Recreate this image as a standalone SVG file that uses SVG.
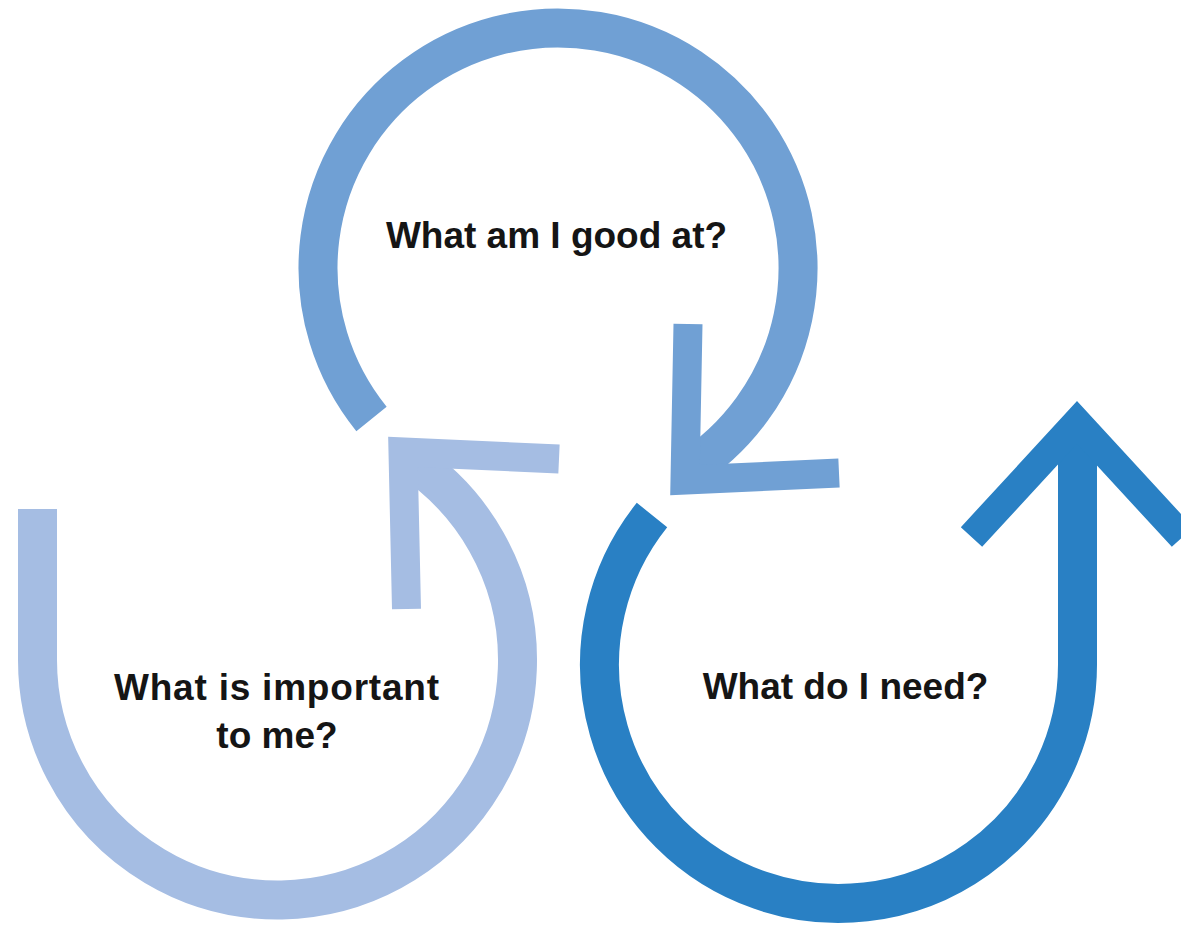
<svg xmlns="http://www.w3.org/2000/svg" width="1181" height="925" viewBox="0 0 1181 925">
  <style>
    .arc { fill: none; stroke-width: 39; stroke-linecap: butt; }
    .head { fill: none; stroke-width: 29; stroke-linecap: butt; stroke-linejoin: miter; stroke-miterlimit: 10; }
    .mid { stroke: #70a0d4; }
    .light { stroke: #a5bde3; }
    .dark { stroke: #2980c4; }
    .label { font-family: "Liberation Sans", "DejaVu Sans", sans-serif; font-weight: bold; font-size: 37px; fill: #151515; text-anchor: middle; }
  </style>
  <rect x="0" y="0" width="1181" height="925" fill="#ffffff"/>
  <g id="connectors">
    <g id="cycle-good-at">
      <path class="arc mid" d="M 371.5 419 A 240 240 0 1 1 685.2 471.5"/>
      <polyline class="head mid" points="688,324 685,480 839,473"/>
    </g>
    <g id="cycle-important">
      <path class="arc light" d="M 37.5 509 L 37.5 660 A 240 240 0 1 0 408.2 458.7"/>
      <polyline class="head light" points="406.5,609 403,452 559,459"/>
    </g>
    <g id="cycle-need">
      <path class="arc dark" d="M 652 515 A 239 239 0 1 0 1077.5 663 L 1077.5 432"/>
      <polyline class="head dark" points="971.5,537 1077,422.5 1182.5,537"/>
    </g>
  </g>
  <g id="node-good-at">
    <text class="label" x="556.5" y="248">What am I good at?</text>
  </g>
  <g id="node-important">
    <text class="label" x="276.5" y="700" textLength="325" lengthAdjust="spacing">What is important</text>
    <text class="label" x="277" y="748">to me?</text>
  </g>
  <g id="node-need">
    <text class="label" x="845.5" y="699">What do I need?</text>
  </g>
</svg>
